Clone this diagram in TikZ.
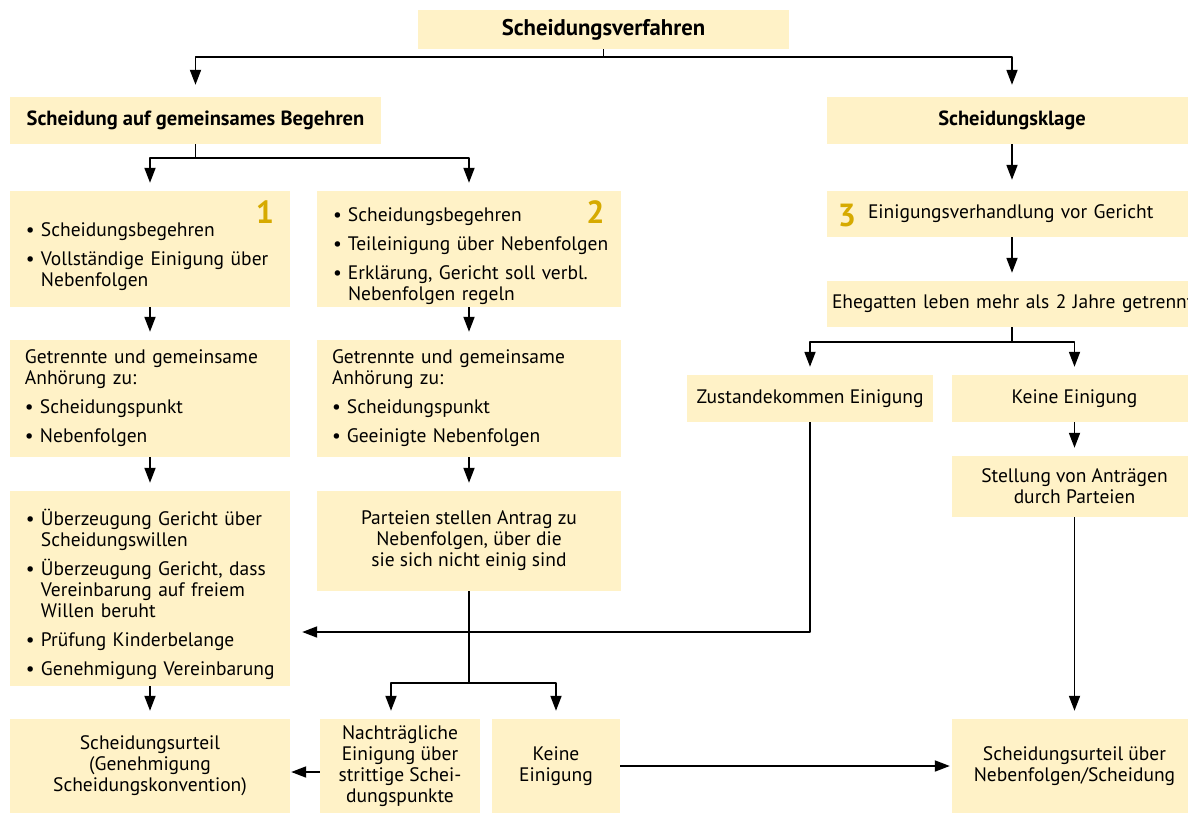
\documentclass[tikz,border=0pt]{standalone}
\usepackage{fontspec}
\setmainfont{PT Sans}
\usetikzlibrary{arrows.meta}
\definecolor{kastengelb}{RGB}{255,242,199}
\definecolor{zahlgelb}{RGB}{214,170,0}
\newcommand{\punkt}[1]{\par\hangindent=15bp\hangafter=1\noindent\makebox[15bp][l]{\textbullet}#1\par}

\begin{document}
\begin{tikzpicture}[x=1bp,y=-1bp,>={Triangle[length=15bp,width=11bp]},line join=bevel,
  kasten/.style={fill=kastengelb,inner sep=0pt,align=center,font=\fontsize{19.5bp}{21bp}\selectfont},
  titel/.style={kasten,font=\fontsize{20.5bp}{21bp}\selectfont\bfseries},
  liste/.style={kasten,align=left,execute at begin node={\setlength{\parskip}{8bp}\setlength{\parindent}{0pt}\hyphenpenalty=10000}},
  nummer/.style={inner sep=0pt,text=zahlgelb,font=\fontsize{32bp}{32bp}\selectfont\bfseries},
  pfeil/.style={black,->,line width=1.8bp,shorten >=8bp}]
%%
\clip (0,0) rectangle (1188,813);
\node (verfahren) at (603.5,29.5) [titel,font=\fontsize{22.7bp}{21bp}\selectfont\bfseries,minimum width=371bp,minimum height=39bp] {Scheidungsverfahren};
  \node (begehren) at (195.5,120.5) [titel,minimum width=371bp,minimum height=47bp] {Scheidung auf gemeinsames Begehren};
  \node (klage) at (1012,120.5) [titel,minimum width=370bp,minimum height=47bp] {Scheidungsklage};
  \node (geb1) at (150,249) [liste,minimum width=280bp,minimum height=116bp,text width=248bp] {\punkt{Scheidungsbegehren}\punkt{Vollständige Einigung über\newline Nebenfolgen}};
  \node (geb2) at (469,249) [liste,minimum width=304bp,minimum height=116bp,text width=272bp] {\punkt{Scheidungsbegehren}\punkt{\mbox{Teileinigung über Nebenfolgen}}\punkt{Erklärung, Gericht soll verbl.\newline Nebenfolgen regeln}};
  \node (nr1) at (265,212.5) [nummer] {1};
  \node (nr2) at (595.5,212.5) [nummer] {2};
  \node (einig) at (1012,214) [kasten,align=left,minimum width=370bp,minimum height=46bp,text width=288bp] {\mbox{Einigungsverhandlung vor Gericht}};
  \node (nr3) at (847,216) [nummer] {3};
  \node (ehegatten) at (1012,304) [kasten,align=left,minimum width=370bp,minimum height=46bp,text width=360bp] {\mbox{Ehegatten leben mehr als 2 Jahre getrennt}};
  \node (anh1) at (150,398.5) [liste,minimum width=280bp,minimum height=117bp,text width=250bp] {Getrennte und gemeinsame\newline Anhörung zu:\par\punkt{Scheidungspunkt}\punkt{Nebenfolgen}};
  \node (anh2) at (469,398.5) [liste,minimum width=304bp,minimum height=117bp,text width=274bp] {Getrennte und gemeinsame\newline Anhörung zu:\par\punkt{Scheidungspunkt}\punkt{Geeinigte Nebenfolgen}};
  \node (zustande) at (810,398.5) [kasten,minimum width=246bp,minimum height=47bp] {Zustandekommen Einigung};
  \node (keine1) at (1074.5,398.5) [kasten,minimum width=245bp,minimum height=47bp] {Keine Einigung};
  \node (stellung) at (1074.5,486.5) [kasten,minimum width=245bp,minimum height=61bp] {Stellung von Anträgen\\durch Parteien};
  \node (ueberz) at (150,588.5) [liste,minimum width=280bp,minimum height=195bp,text width=248bp] {\punkt{Überzeugung Gericht über\newline Scheidungswillen}\punkt{Überzeugung Gericht, dass\newline Vereinbarung auf freiem\newline Willen beruht}\punkt{Prüfung Kinderbelange}\punkt{\mbox{Genehmigung Vereinbarung}}};
  \node (parteien) at (469,541) [kasten,minimum width=304bp,minimum height=100bp] {Parteien stellen Antrag zu\\Nebenfolgen, über die\\sie sich nicht einig sind};
  \node (urteil1) at (150,766) [kasten,minimum width=280bp,minimum height=94bp] {Scheidungsurteil\\(Genehmigung\\Scheidungskonvention)};
  \node (nachtr) at (400,766) [kasten,minimum width=160bp,minimum height=94bp] {Nachträgliche\\Einigung über\\strittige Schei-\\dungspunkte};
  \node (keine2) at (556,766) [kasten,minimum width=128bp,minimum height=94bp] {Keine\\Einigung};
  \node (urteil2) at (1074.5,766) [kasten,minimum width=245bp,minimum height=94bp] {Scheidungsurteil über\\Nebenfolgen/Scheidung};
  \coordinate (knick) at (810,632);
%
  \draw [pfeil,shorten >=12bp] (verfahren.south) -- ++(0,8) -| (begehren.north);
  \draw [pfeil,shorten >=12bp] (verfahren.south) -- ++(0,8) -| (klage.north);
  \draw [pfeil] (begehren.south) -- ++(0,14) -| (geb1.north);
  \draw [pfeil] (begehren.south) -- ++(0,14) -| (geb2.north);
  \draw [pfeil,shorten >=11bp] (klage) -- (einig);
  \draw [pfeil] (einig) -- (ehegatten);
  \draw [pfeil] (ehegatten.south) -- ++(0,15) -| (zustande.north);
  \draw [pfeil] (ehegatten.south) -- ++(0,15) -| (keine1.north);
  \draw [pfeil] (keine1) -- (stellung);
  \draw [pfeil] (stellung) -- (urteil2);
  \draw [pfeil,shorten >=12bp] (zustande.south) -- (knick) -- (ueberz.east |- knick);
  \draw [pfeil] (geb1) -- (anh1);
  \draw [pfeil] (anh1) -- (ueberz);
  \draw [pfeil] (ueberz) -- (urteil1);
  \draw [pfeil] (geb2) -- (anh2);
  \draw [pfeil] (anh2) -- (parteien);
  \draw [pfeil] (parteien.south) -- ++(0,92) -| ([xshift=-9bp]nachtr.north);
  \draw [pfeil] (parteien.south) -- ++(0,92) -| (keine2.north);
  \draw [pfeil,shorten >=1bp] ([yshift=-6bp]nachtr.west) -- ([yshift=-6bp]urteil1.east);
  \draw [pfeil,shorten >=2bp] (keine2) -- (urteil2);
%
\end{tikzpicture}
\end{document}
